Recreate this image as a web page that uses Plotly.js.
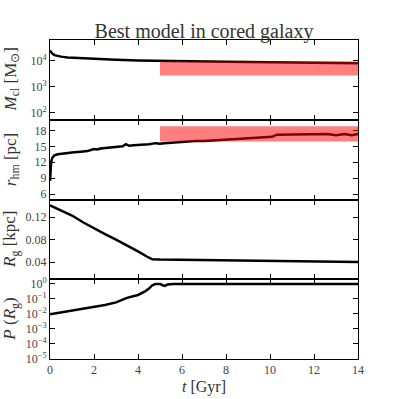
<!DOCTYPE html>
<html>
<head>
<meta charset="utf-8">
<script src="https://cdn.plot.ly/plotly-3.0.1.min.js"></script>
<style>
  html, body { margin: 0; padding: 0; background: #fff; }
  #chart { width: 399px; height: 399px; }
</style>
</head>
<body>
<div id="chart"></div>
<script>
// Cluster mass (top panel)
const tMass = [0, 0.05, 0.1, 0.2, 0.3, 0.5, 0.8, 1.2, 1.5, 2, 3, 4, 5, 6, 7, 8, 9, 10, 11, 12, 13, 14];
const mass = [2.4e4, 2.1e4, 1.85e4, 1.6e4, 1.5e4, 1.4e4, 1.3e4, 1.25e4, 1.2e4, 1.14e4, 1.06e4, 1.0e4,
              9.6e3, 9.4e3, 9.2e3, 9.0e3, 8.8e3, 8.6e3, 8.4e3, 8.2e3, 8.05e3, 7.9e3];

// Half-mass radius
const tRhm = [0, 0.02, 0.05, 0.1, 0.2, 0.35, 0.5, 0.8, 1.1, 1.4, 1.7, 2.0, 2.15, 2.3, 2.6, 3.0, 3.3, 3.45, 3.6,
              3.8, 4.2, 4.5, 4.8, 5.0, 5.2, 5.5, 5.8, 6.2, 6.6, 7.0, 7.4, 7.8, 8.2, 8.6, 9.0, 9.4, 9.8, 10.1,
              10.3, 10.6, 11.0, 11.4, 11.8, 12.2, 12.6, 13.0, 13.4, 13.7, 14.0];
const rhm = [8.5, 10.5, 12.0, 12.8, 13.3, 13.5, 13.6, 13.8, 13.9, 14.0, 14.1, 14.5, 14.4, 14.6, 14.7, 14.9, 15.0,
             15.4, 15.1, 15.2, 15.3, 15.4, 15.6, 15.5, 15.6, 15.7, 15.8, 15.9, 16.0, 16.0, 16.1, 16.2, 16.35,
             16.45, 16.5, 16.6, 16.7, 16.8, 17.2, 17.2, 17.3, 17.2, 17.3, 17.2, 17.3, 17.1, 17.3, 17.1, 17.3];

// Galactocentric radius
const tRg = [0, 0.5, 1, 1.5, 2, 2.5, 3, 3.5, 4, 4.4, 4.65, 5, 6, 7, 8, 9, 10, 11, 12, 13, 14];
const rg = [0.141, 0.132, 0.123, 0.111, 0.100, 0.090, 0.080, 0.070, 0.059, 0.050, 0.045, 0.0445,
            0.044, 0.0437, 0.0433, 0.0428, 0.0422, 0.0417, 0.0412, 0.0405, 0.040];

// Probability
const tProb = [0, 0.5, 1, 1.5, 2, 2.5, 3, 3.5, 4, 4.3, 4.5, 4.65, 4.8, 5.0, 5.12, 5.22, 5.35, 5.6, 7, 14];
const prob = [0.009, 0.012, 0.016, 0.020, 0.026, 0.037, 0.055, 0.11, 0.17, 0.28, 0.45, 0.75, 0.92, 0.92,
              0.75, 0.68, 0.85, 0.9, 0.9, 0.9];

// Observed ranges (red boxes)
const boxT = [5, 14];
const boxMass = [2.7e3, 9.2e3];
const boxRhm = [15.9, 18.8];

// log tick exponents
const massExp = [2, 3, 4];
const probExp = [-5, -4, -3, -2, -1, 0];

const serif = "Liberation Serif";

function lineTrace(x, y, yax) {
    return {x: x, y: y, xaxis: yax.replace("y", "x"), yaxis: yax, mode: "lines",
            line: {color: "#000", width: 2.5}, hoverinfo: "skip"};
}
function boxShape(lim, yax) {
    return {type: "rect", layer: "above", xref: yax.replace("y", "x"), yref: yax,
            x0: boxT[0], x1: boxT[1], y0: lim[0], y1: lim[1],
            fillcolor: "rgba(255,0,0,0.5)", line: {width: 0}};
}
function powTicks(exps) {
    return {tickvals: exps.map(e => Math.pow(10, e)),
            ticktext: exps.map(e => "10<sup>" + (e < 0 ? "\u2212" + (-e) : e) + "</sup>")};
}

const data = [
    lineTrace(tMass, mass, "y"),
    lineTrace(tRhm, rhm, "y2"),
    lineTrace(tRg, rg, "y3"),
    lineTrace(tProb, prob, "y4")
];

function common() {
    return {
        showline: true, linecolor: "#000", linewidth: 1, mirror: "ticks",
        ticks: "inside", ticklen: 5, tickwidth: 1, tickcolor: "#000",
        showgrid: false, zeroline: false,
        tickfont: {family: serif, size: 12, color: "#444"}
    };
}

function xax(anchor, labels) {
    return Object.assign(common(), {anchor: anchor, range: [0, 14], dtick: 2, tick0: 0,
        showticklabels: labels});
}

const layout = {
    width: 399, height: 399,
    margin: {l: 49.5, r: 41, t: 39.5, b: 40},
    paper_bgcolor: "#fff", plot_bgcolor: "#fff",
    showlegend: false,
    title: {text: "Best model in cored galaxy", font: {family: serif, size: 20, color: "#333"},
            x: 0.5, xref: "paper", xanchor: "center", y: 1 - 31 / 399, yref: "container", yanchor: "middle"},
    xaxis: xax("y", false),
    xaxis2: xax("y2", false),
    xaxis3: xax("y3", false),
    xaxis4: Object.assign(xax("y4", true), {
        title: {text: "<i>t</i> [Gyr]", font: {family: serif, size: 16, color: "#333"}, standoff: 4}
    }),
    yaxis: Object.assign(common(), {domain: [0.75, 1], type: "log", range: [1.74, 4.78]},
        powTicks(massExp)),
    yaxis2: Object.assign(common(), {domain: [0.5, 0.75], range: [5, 20], tickvals: [6, 9, 12, 15, 18]}),
    yaxis3: Object.assign(common(), {domain: [0.25, 0.5], range: [0.0095, 0.1515],
        tickvals: [0.04, 0.08, 0.12], ticktext: ["0.04", "0.08", "0.12"]}),
    yaxis4: Object.assign(common(), {domain: [0, 0.25], type: "log", range: [-5, 0.27]},
        powTicks(probExp)),
    shapes: [boxShape(boxMass, "y"), boxShape(boxRhm, "y2")],
    annotations: [
        ["<i>M</i><sub>cl</sub> [M<sub>⊙</sub>]", 0.875],
        ["<i>r</i><sub>hm</sub> [pc]", 0.625],
        ["<i>R</i><sub>g</sub> [kpc]", 0.375],
        ["<i>P</i> (<i>R</i><sub>g</sub>)", 0.125]
    ].map(function (a) {
        return {text: a[0], xref: "paper", yref: "paper", x: (11 - 49.5) / 308.5, y: a[1],
                xanchor: "center", yanchor: "middle", textangle: -90, showarrow: false,
                font: {family: serif, size: 17, color: "#333"}};
    })
};

Plotly.newPlot("chart", data, layout, {staticPlot: true});
</script>
</body>
</html>
